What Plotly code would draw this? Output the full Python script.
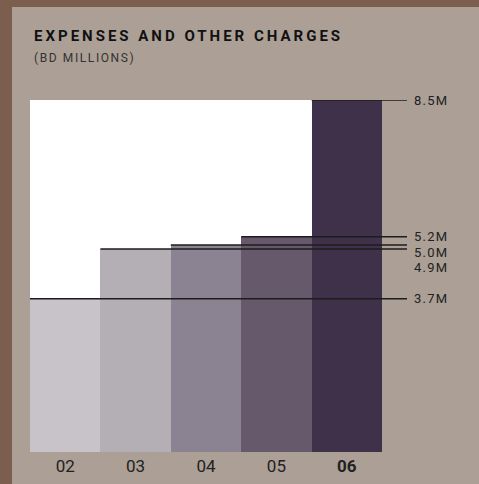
import plotly.graph_objects as go

# ---- data ----
years = ["02", "03", "04", "05", "06"]
values = [3.7, 4.9, 5.0, 5.2, 8.5]
value_labels = ["3.7M", "4.9M", "5.0M", "5.2M", "8.5M"]
bar_colors = ["#c8c3c8", "#b3afb5", "#8b8392", "#67596c", "#40314a"]

W, H = 479, 484
ML, MR, MT, MB = 30, 29, 100, 32
plot_w = W - ML - MR
plot_h = H - MT - MB
n = len(years)
bar_px = 352 / n
x_max = -0.5 + plot_w / bar_px
y_max = max(values)

PANEL = "#ab9f96"
FRAME = "#7b5e4e"

x = list(range(n))
tick_text = [y if i < n - 1 else f"<b>{y}</b>" for i, y in enumerate(years)]

fig = go.Figure()
fig.add_trace(go.Bar(
    x=x, y=values, width=1.0,
    marker=dict(color=bar_colors, line=dict(width=0)),
    hoverinfo="skip", showlegend=False,
))

shapes = []
# white backdrop behind bars
shapes.append(dict(type="rect", xref="x", yref="y", x0=-0.5, x1=n - 0.5,
                   y0=0, y1=y_max, fillcolor="white", line=dict(width=0), layer="below"))

def px_to_paper_x(px):
    return (px - ML) / plot_w

def px_to_paper_y(py):
    return (H - MB - py) / plot_h

# brown frame strips (left and top)
shapes.append(dict(type="rect", xref="paper", yref="paper",
                   x0=px_to_paper_x(-5), x1=px_to_paper_x(12),
                   y0=px_to_paper_y(H + 20), y1=px_to_paper_y(-5),
                   fillcolor=FRAME, line=dict(width=0), layer="below"))
shapes.append(dict(type="rect", xref="paper", yref="paper",
                   x0=px_to_paper_x(-5), x1=px_to_paper_x(W + 20),
                   y0=px_to_paper_y(7), y1=px_to_paper_y(-5),
                   fillcolor=FRAME, line=dict(width=0), layer="below"))

line_end = (n - 0.5) + 25 / bar_px
label_x = (n - 0.5) + 31 / bar_px
annotations = []
px_per_unit = plot_h / y_max
order = sorted(range(n), key=lambda i: -values[i])
prev = None
for i in order:
    v = values[i]
    shapes.append(dict(type="line", xref="x", yref="y", x0=i - 0.5, x1=line_end,
                       y0=v, y1=v, line=dict(color="#1c1c1c", width=1.5), layer="above"))
    natural = MT + (y_max - v) * px_per_unit
    py = natural
    if prev is not None and py < prev + 15.5:
        py = prev + 15.5
    prev = py
    annotations.append(dict(xref="x", yref="y", x=label_x, y=v, yshift=-(py - natural),
                            text=f'<span style="letter-spacing:1.2px">{value_labels[i]}</span>',
                            showarrow=False, xanchor="left", yanchor="middle", borderpad=0,
                            font=dict(family="Roboto", size=13, color="#222222")))

annotations.append(dict(xref="paper", yref="paper", x=px_to_paper_x(33), y=px_to_paper_y(26),
                        text='<span style="letter-spacing:3px"><b>EXPENSES AND OTHER CHARGES</b></span>',
                        showarrow=False, xanchor="left", yanchor="top", borderpad=0,
                        font=dict(family="Roboto", size=15, color="#111111")))
annotations.append(dict(xref="paper", yref="paper", x=px_to_paper_x(33), y=px_to_paper_y(50),
                        text='<span style="letter-spacing:1.6px">(BD MILLIONS)</span>',
                        showarrow=False, xanchor="left", yanchor="top", borderpad=0,
                        font=dict(family="Roboto", size=12, color="#333333")))

fig.update_layout(
    width=W, height=H, autosize=False,
    margin=dict(l=ML, r=MR, t=MT, b=MB, pad=0, autoexpand=False),
    paper_bgcolor=PANEL, plot_bgcolor="rgba(0,0,0,0)",
    bargap=0, showlegend=False,
    xaxis=dict(range=[-0.5, x_max], tickvals=x, ticktext=tick_text,
               showgrid=False, zeroline=False, showline=False, ticks="",
               automargin=False, ticklabelstandoff=2,
               tickfont=dict(family="Roboto", size=17, color="#222222"), fixedrange=True),
    yaxis=dict(range=[0, y_max], showgrid=False, zeroline=False, showline=False,
               automargin=False, showticklabels=False, ticks="", fixedrange=True),
    shapes=shapes, annotations=annotations,
)

fig.write_html("out.html",
               config={"displayModeBar": False, "responsive": False},
               post_script="document.body.style.margin='0';document.body.style.overflow='hidden';"
                           "document.documentElement.style.background='" + PANEL + "';")
